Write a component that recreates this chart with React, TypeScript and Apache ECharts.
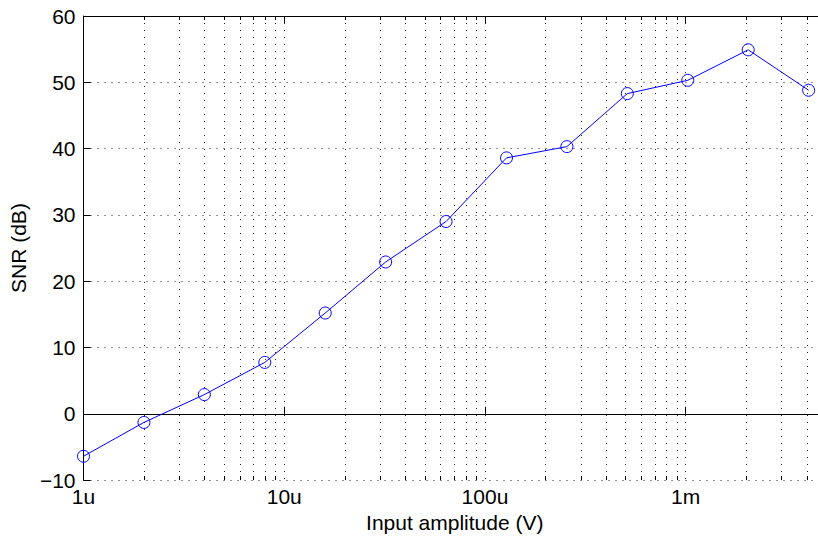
import React, { useEffect, useRef } from "react";
import * as echarts from "echarts";

const amplitudes = [1e-6, 2e-6, 4e-6, 8e-6, 16e-6, 32e-6, 64e-6, 128e-6, 256e-6, 512e-6, 1024e-6, 2048e-6, 4096e-6];
const snrDb = [-6.4, -1.3, 2.9, 7.75, 15.2, 22.9, 29.0, 38.6, 40.3, 48.3, 50.3, 54.9, 48.8];
const yTicks = { min: -10, max: 60, interval: 10 };
const xRange = { min: 1e-6, max: 5e-3 };
const decadeLabels: Record<number, string> = { [-6]: "1u", [-5]: "10u", [-4]: "100u", [-3]: "1m" };
const minorMultipliers = [2, 3, 4, 5, 6, 7, 8, 9];
const minorDecades = [-6, -5, -4, -3];

const FONT = "'Liberation Sans', Arial, Helvetica, sans-serif";
const FS = 21;

export default function App() {
  const ref = useRef<HTMLDivElement>(null);
  useEffect(() => {
    if (!ref.current) return;
    const chart = echarts.init(ref.current, null, { renderer: "svg" });

    const minorVals: number[][] = [];
    minorDecades.forEach((d) => {
      minorMultipliers.forEach((m) => {
        const v = m * Math.pow(10, d);
        if (v < xRange.max) minorVals.push([v, 0]);
      });
    });

    const fmtX = (v: number) => {
      const e = Math.round(Math.log10(v));
      if (Math.abs(Math.log10(v) - e) > 1e-6) return "";
      return decadeLabels[e] ?? "";
    };

    const axisBase = {
      type: "log" as const,
      logBase: 10,
      min: xRange.min,
      max: xRange.max,
      axisLine: { show: true, lineStyle: { color: "#000", width: 1 } },
      axisTick: { show: true, inside: true, length: 7, lineStyle: { color: "#000" } },
      minorTick: { show: false },
    };

    chart.setOption({
      animation: false,
      backgroundColor: "#fff",
      textStyle: { fontFamily: FONT },
      grid: { left: 82, top: 16, width: 744, height: 467, containLabel: false },
      xAxis: [
        {
          ...axisBase,
          position: "bottom",
          name: "Input amplitude (V)",
          nameLocation: "middle",
          nameGap: 31,
          nameTextStyle: { fontSize: FS, color: "#000", fontFamily: FONT },
          axisLabel: { show: true, formatter: fmtX, fontSize: FS, color: "#000", margin: 6, fontFamily: FONT, showMaxLabel: false },
          splitLine: { show: true, lineStyle: { color: "#222", type: [1, 6], width: 1 } },
        },
        {
          ...axisBase,
          position: "top",
          axisLabel: { show: false },
          splitLine: { show: false },
        },
      ],
      yAxis: [
        {
          type: "value",
          min: yTicks.min,
          max: yTicks.max,
          interval: yTicks.interval,
          name: "SNR (dB)",
          nameLocation: "middle",
          nameGap: 50,
          nameTextStyle: { fontSize: FS, color: "#000", fontFamily: FONT },
          axisLine: { show: true, lineStyle: { color: "#000", width: 1 } },
          axisTick: { show: true, inside: true, length: 7, lineStyle: { color: "#000" } },
          axisLabel: {
            fontSize: FS,
            color: "#000",
            margin: 8,
            fontFamily: FONT,
            formatter: (v: number) => String(v).replace("-", "\u2212"),
          },
          splitLine: { show: true, lineStyle: { color: "#222", type: [1, 6], width: 1 } },
        },
      ],
      series: [
        {
          type: "custom",
          silent: true,
          xAxisIndex: 0,
          yAxisIndex: 0,
          data: minorVals,
          clip: false,
          z: 1,
          renderItem: (params: any, api: any) => {
            const x = api.value(0);
            const top = api.coord([x, yTicks.max]);
            const bot = api.coord([x, yTicks.min]);
            const px = Math.round(top[0]) + 0.5;
            return {
              type: "group",
              children: [
                {
                  type: "line",
                  shape: { x1: px, y1: top[1], x2: px, y2: bot[1] },
                  style: { stroke: "#222", lineWidth: 1, lineDash: [1, 6] },
                },
                {
                  type: "line",
                  shape: { x1: px, y1: bot[1], x2: px, y2: bot[1] - 4 },
                  style: { stroke: "#000", lineWidth: 1 },
                },
                {
                  type: "line",
                  shape: { x1: px, y1: top[1], x2: px, y2: top[1] + 4 },
                  style: { stroke: "#000", lineWidth: 1 },
                },
              ],
            };
          },
        },
        {
          type: "line",
          xAxisIndex: 0,
          yAxisIndex: 0,
          data: amplitudes.map((a, i) => [a, snrDb[i]]),
          symbol: "circle",
          symbolSize: 12,
          z: 5,
          lineStyle: { color: "#0000ff", width: 1 },
          itemStyle: { color: "rgba(255,255,255,0)", borderColor: "#0000ff", borderWidth: 1 },
          emphasis: { disabled: true },
        },
      ],
    });
    return () => chart.dispose();
  }, []);

  return (
    <div style={{ position: "fixed", left: 0, top: 0, width: 818, height: 538, overflow: "hidden", background: "#fff" }}>
      <div ref={ref} style={{ width: 840, height: 538 }} />
    </div>
  );
}
